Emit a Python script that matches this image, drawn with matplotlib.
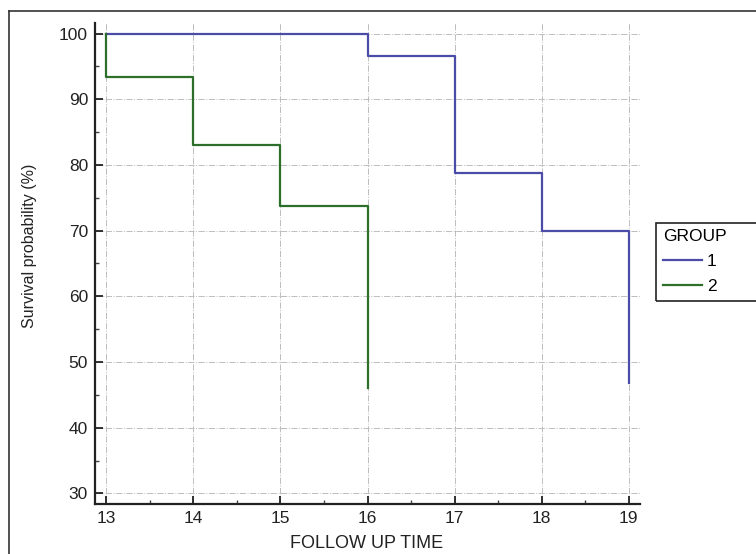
import numpy as np
import matplotlib.pyplot as plt
from matplotlib.lines import Line2D
from matplotlib.patches import Rectangle
from matplotlib.ticker import MultipleLocator

plt.rcParams['font.family'] = ['Liberation Sans', 'DejaVu Sans']

# datos de supervivencia (Kaplan-Meier)
grupos = ["1", "2"]
tiempo_g1 = [13, 16, 17, 18, 19]
surv_g1 = [100, 96.6, 78.7, 70.0, 46.8]
tiempo_g2 = [13, 13, 14, 15, 16]
surv_g2 = [100, 93.4, 83.0, 73.7, 46.0]

x_ticks = [13, 14, 15, 16, 17, 18, 19]
y_ticks = [30, 40, 50, 60, 70, 80, 90, 100]

AZUL = '#4b4ba8'
VERDE = '#2b6f2b'

fig = plt.figure(figsize=(7.56, 5.54), dpi=100)
ax = fig.add_axes([95 / 756, 50 / 554, 545 / 756, 481 / 554])

ax.step(tiempo_g1, surv_g1, where='post', color=AZUL, lw=1.6, label=grupos[0])
ax.step(tiempo_g2, surv_g2, where='post', color=VERDE, lw=1.6, label=grupos[1])

ax.set_xlim(12.87, 19.13)
ax.set_ylim(28.4, 101.6)
ax.set_xticks(x_ticks)
ax.set_yticks(y_ticks)
ax.xaxis.set_minor_locator(MultipleLocator(0.5))
ax.yaxis.set_minor_locator(MultipleLocator(5))

ax.grid(True, which='major', color='#bdbdbd', ls='-.', lw=0.7)
ax.set_axisbelow(True)

for lado in ['top', 'right']:
    ax.spines[lado].set_visible(False)
for lado in ['left', 'bottom']:
    ax.spines[lado].set_linewidth(1.6)
    ax.spines[lado].set_color('#222222')

ax.tick_params(which='major', direction='in', length=6, width=1.3,
               labelsize=12.5, colors='#222222', pad=5)
ax.tick_params(which='minor', direction='in', length=3, width=1, colors='#444444')

ax.set_xlabel("FOLLOW UP TIME", fontsize=13, color='#222222')
ax.set_ylabel("Survival probability (%)", fontsize=11.5, color='#222222')
ax.xaxis.set_label_coords(0.498, -0.064)
ax.yaxis.set_label_coords(-0.107, 0.537)

# leyenda sin marco propio; el marco se corta en el borde derecho como en el original
leg = fig.legend(handles=[Line2D([], [], color=AZUL, lw=1.6),
                          Line2D([], [], color=VERDE, lw=1.6)],
                 labels=grupos, title="GROUP", loc='upper left',
                 bbox_to_anchor=(660 / 756, 1 - 226 / 554),
                 fontsize=12.5, title_fontsize=12.5, frameon=False,
                 handlelength=2.2, handletextpad=0.3, labelspacing=0.55,
                 borderpad=0.2, borderaxespad=0)
leg._legend_box.align = 'left'
fig.add_artist(Rectangle((656 / 756, 1 - 301 / 554), 110 / 756, 78 / 554,
                         transform=fig.transFigure, fill=False,
                         edgecolor='#222222', lw=1.2, clip_on=False))

# marco exterior (solo arriba e izquierda visibles)
fig.add_artist(Line2D([9 / 756, 1], [1 - 11 / 554, 1 - 11 / 554],
                      color='#333333', lw=1.2, transform=fig.transFigure))
fig.add_artist(Line2D([9 / 756, 9 / 756], [0, 1 - 11 / 554],
                      color='#333333', lw=1.2, transform=fig.transFigure))

fig.savefig('out.png', dpi=100)
